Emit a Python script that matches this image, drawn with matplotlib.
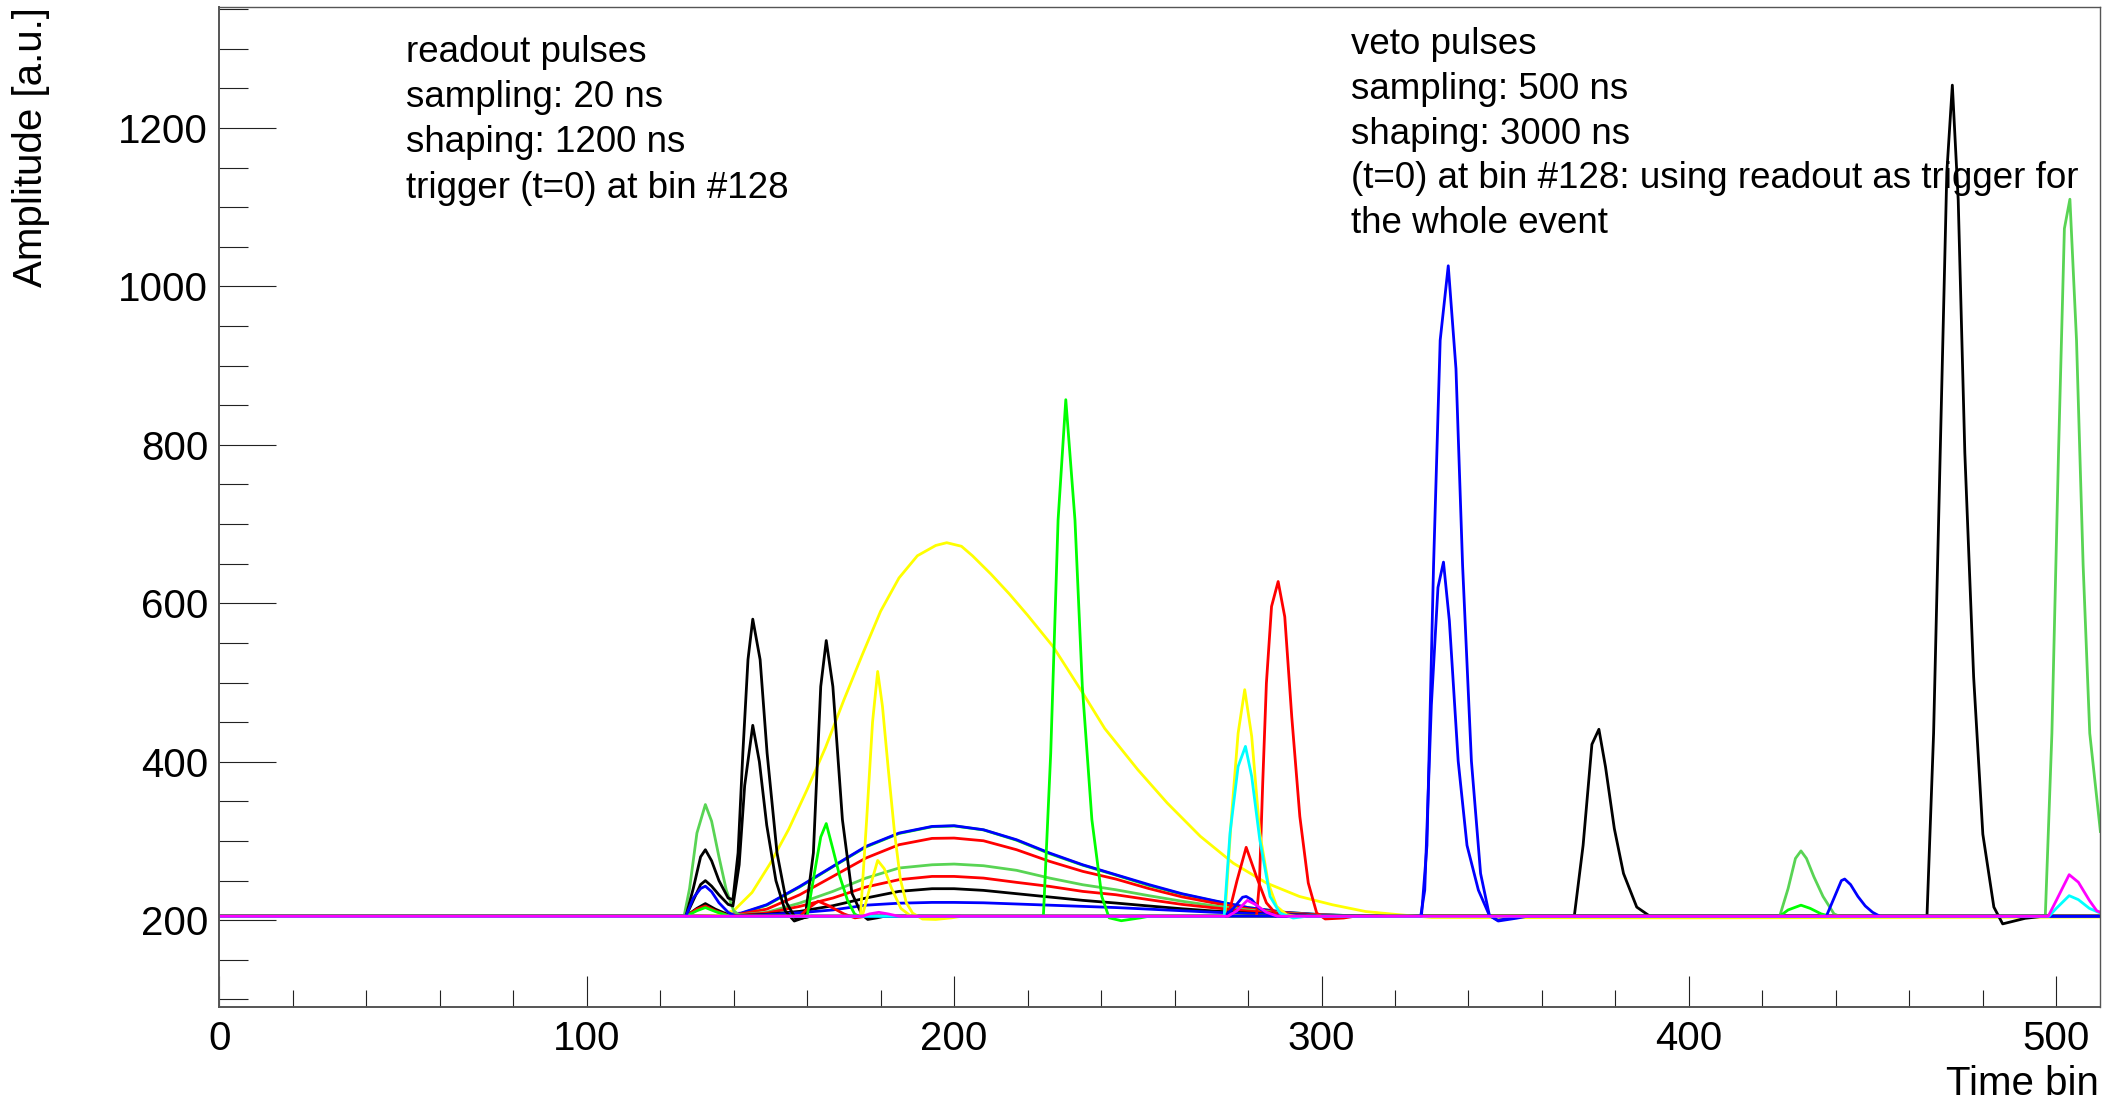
import numpy as np
import matplotlib
matplotlib.use("Agg")
import matplotlib.pyplot as plt

# ROOT-like colours
BLACK = "#000000"
RED = "#ff0000"
GREEN = "#00ff00"
BLUE = "#0000ff"
YELLOW = "#ffff00"
MAGENTA = "#ff00ff"
CYAN = "#00ffff"
GREEN8 = "#59d454"

# ---- readout pulses (broad, 1200 ns shaping) ----
ro_x = [0, 128, 135, 142, 149, 158, 167, 176, 185, 194, 200, 208, 217, 226,
        235, 244, 253, 262, 271, 280, 290, 300, 310, 512]
ro_green = [205, 205, 206, 208.5, 219, 242, 267.5, 292.5, 309.5, 318, 319, 314, 301,
            284, 269.5, 257, 244, 233, 224, 216, 210, 207, 205.5, 205]
ro_blue = [205, 205, 206, 209, 219.6, 242.7, 268, 293.2, 310, 318.4, 319.3, 314.2, 301.6,
           284.8, 270, 257.5, 245, 233.5, 224.5, 216, 210, 207, 205.5, 205]
ro_red = [205, 205, 205.5, 208, 214, 232.2, 255.3, 278.5, 295.3, 303.3, 303.7, 300.3, 289,
          274.3, 261.7, 252, 240, 229.5, 221.5, 214.5, 209.5, 206.5, 205.5, 205]
ro_green8 = [205, 205, 205.5, 207, 210, 221.7, 236.4, 253.2, 265.9, 270, 270.9, 268.8, 263,
             253.2, 244.8, 238.5, 231, 224, 218, 213, 209, 206.5, 205.5, 205]
ro_red2 = [205, 205, 205, 206.5, 209, 217.5, 228, 241.9, 251.2, 255.3, 255.3, 253.2, 247.8,
           242.7, 236.4, 232.2, 226, 220, 215.5, 211.5, 208.5, 206.5, 205.5, 205]
ro_black = [205, 205, 205, 206, 207.5, 211.2, 218.3, 228, 236.4, 239.8, 239.8, 237.7, 233.5,
            229.3, 225.1, 221.7, 218, 214.5, 211.5, 209, 207, 206, 205.3, 205]
ro_blue2 = [205, 205, 205, 205.5, 207, 209.5, 213, 219, 221.5, 222.5, 222.5, 222, 220.5,
            219, 217.5, 216, 214, 212, 210, 208.5, 207, 206, 205.3, 205]

ro_yellow_x = [0, 128, 135, 140, 145, 150, 155, 160, 165, 170, 175, 180, 185, 190, 195,
               198, 202, 205, 210, 215, 220, 227, 235, 241, 250, 258, 267, 276, 285,
               294, 303, 312, 321, 330, 400, 512]
ro_yellow = [205, 205, 206, 212, 235, 272, 315, 365, 418, 478, 535, 590, 632, 660, 673,
             676.5, 672, 660, 637, 612, 585, 545, 487, 442, 390, 348, 306, 272, 247,
             230, 219.5, 211, 207, 203.5, 203, 204]

# ---- veto pulses (narrow, 3000 ns shaping) ----
v_green8_x = [0, 126.5, 128, 130, 132.3, 134, 136, 138, 140, 142,
              424.7, 427, 429, 430.5, 432, 434, 436.5, 439.5, 441,
              497, 498.8, 500.6, 502.2, 503.7, 505.5, 507.3, 509.1, 512]
v_green8 = [205, 205, 240, 310, 346, 325, 280, 238, 212, 205,
            205, 240, 278, 287.5, 278, 255, 230, 208, 205,
            205, 436, 790, 1073, 1110, 932, 648, 436, 312]

v_black1_x = [0, 127, 129, 131, 132.3, 134, 136, 138.5, 139.8, 141.2, 142.5, 143.9,
              145.2, 147.2, 149.1, 151.8, 154.4, 157, 159.7, 161, 512]
v_black1 = [205, 205, 240, 280, 289, 275, 250, 228, 226, 285, 411, 529,
            580, 529, 411, 285, 222, 201, 204, 205, 205]

v_black2_x = [0, 127, 129, 131, 132.3, 134, 136, 138.5, 139.8, 141.5, 143, 145.2,
              147, 149, 151.5, 154, 156.5, 159, 161, 512]
v_black2 = [205, 205, 225, 245, 250, 243, 232, 220, 218, 270, 370, 446,
            400, 320, 250, 212, 199, 203, 205, 205]

v_black3_x = [0, 127, 130, 132.3, 135, 139, 159.5, 161.7, 163.7, 165.2, 167, 169.6,
              172.2, 174.9, 176.5, 179, 181,
              368.8, 371.2, 373.6, 375.5, 377.3, 379.7, 382.2, 385.8, 389.4,
              464.8, 466.6, 468.4, 470.2, 471.7, 473.3, 475.1, 477.5, 480, 483,
              485.4, 491.5, 496.4, 512]
v_black3 = [205, 205, 215, 221, 214, 206, 205, 285, 495, 553, 495, 327,
            234, 207, 201, 203, 205,
            205, 294.5, 422, 441, 393.6, 315.7, 259, 216.6, 205,
            205, 436, 790, 1144, 1254, 1109, 790, 507, 308.6, 216.6,
            195.4, 202.4, 205, 205]

v_red1_x = [0, 127, 130, 132.3, 135, 139, 158, 160, 163, 166, 170, 173, 176,
            274.6, 277, 279.5, 282.3, 285, 287.8, 290, 512]
v_red1 = [205, 205, 214, 218, 212, 205, 205, 214, 224, 218, 208, 203, 205,
          205, 250, 292, 255, 222, 207, 205, 205]

v_red2_x = [0, 282.3, 283.1, 284, 285, 286.4, 288.2, 290, 291.9, 294.1, 296.4,
            298.7, 301, 306, 309, 512]
v_red2 = [205, 205, 247, 373, 499, 596, 627.5, 583, 457, 331, 247,
          209, 201.6, 202.8, 205, 205]

v_green_x = [0, 127, 130, 132.3, 135, 139, 160, 162, 163.7, 165.2, 167, 168.9, 171,
             172.9, 174, 224.3, 226.3, 228.3, 230.4, 232.9, 234.9, 237.5, 240.2,
             242.2, 245.5, 250.7, 253, 424.7, 427, 430.5, 433, 436, 438.5, 512]
v_green = [205, 205, 212, 216, 211, 205, 205, 260, 305, 322, 290, 255, 225,
           208, 205, 205, 411, 705, 857, 705, 495, 327, 230,
           203, 199.4, 203, 205, 205, 213, 219, 215, 208, 205, 205]

v_yellow1_x = [0, 174.5, 176.2, 177.8, 179.2, 180.5, 182.1, 183.8, 185.4, 187, 188.7,
               191.4, 195, 199.3, 202, 273.7, 275.5, 277.3, 279.1, 281, 283.2,
               285.5, 287.8, 290.5, 293, 512]
v_yellow1 = [205, 205, 327, 450, 514, 470, 390, 310, 251, 222, 209,
             201.5, 201, 203, 205, 205, 331, 436, 491, 432, 310,
             247, 217.5, 207, 205, 205]

v_yellow2_x = [0, 175, 177, 179.2, 181, 183, 185.5, 188, 190, 512]
v_yellow2 = [205, 205, 240, 275.5, 265, 240, 215, 206, 205, 205]

v_blue1_x = [0, 127, 129, 131, 132.3, 134, 136, 138.5, 140.5,
             273.5, 276, 278.5, 279.5, 281, 283, 286, 288,
             327.2, 328.7, 330.5, 332.3, 334.5, 336.6, 338.4, 340.8, 343.3, 345.7,
             348.1, 353, 356,
             437.4, 439.5, 441.5, 442.4, 444, 446, 448, 450, 452, 512]
v_blue1 = [205, 205, 228, 240, 243, 236, 222, 210, 205,
           205, 215, 229, 230, 226, 215, 207, 205,
           205, 294.5, 648, 932, 1026, 896, 648, 401, 259, 206,
           199, 202.5, 205,
           205, 228, 250, 252, 245, 230, 218, 210, 205, 205]

v_blue2_x = [0, 327, 328.1, 329.9, 331.7, 333.2, 334.8, 337.2, 339.6, 342.7, 345.7,
             348, 352, 355, 512]
v_blue2 = [205, 205, 238, 471.5, 620, 652, 578, 401, 294.5, 238, 206,
           200, 203, 205, 205]

v_cyan_x = [0, 273.5, 275.1, 277.3, 279.3, 281, 283.2, 286, 288.7, 292.3, 296,
            498, 500, 503.5, 506, 509, 512]
v_cyan = [205, 205, 310, 394, 419.4, 381.5, 301.6, 230, 209, 202.8, 205,
          205, 215, 231, 226, 215, 209]

v_magenta_x = [0, 175, 177, 179.5, 182, 185, 274.5, 277, 279.8, 282, 285, 288,
               497.8, 500, 503.5, 506, 509, 511, 512]
v_magenta = [205, 205, 208, 210, 208, 205, 205, 212, 225, 220, 210, 205,
             205, 225, 257.5, 248, 225, 212, 210]

FONT = "Liberation Sans"
plt.rcParams["font.family"] = [FONT, "DejaVu Sans"]

fig = plt.figure(figsize=(21.1, 10.99), dpi=100)
ax = fig.add_axes([0.10393, 0.08408, 0.89152, 0.90982])

lw = 2.0
traces = [
    (ro_x, ro_green, GREEN), (ro_x, ro_blue, BLUE), (ro_x, ro_red, RED),
    (ro_x, ro_green8, GREEN8), (ro_x, ro_red2, RED), (ro_x, ro_black, BLACK),
    (ro_x, ro_blue2, BLUE), (ro_yellow_x, ro_yellow, YELLOW),
    (v_green8_x, v_green8, GREEN8), (v_black1_x, v_black1, BLACK),
    (v_black2_x, v_black2, BLACK), (v_black3_x, v_black3, BLACK),
    (v_red1_x, v_red1, RED), (v_red2_x, v_red2, RED),
    (v_green_x, v_green, GREEN), (v_yellow1_x, v_yellow1, YELLOW),
    (v_yellow2_x, v_yellow2, YELLOW), (v_blue1_x, v_blue1, BLUE),
    (v_blue2_x, v_blue2, BLUE), (v_cyan_x, v_cyan, CYAN),
    (v_magenta_x, v_magenta, MAGENTA),
]
for xs, ys, c in traces:
    ax.plot(xs, ys, color=c, lw=lw, solid_joinstyle="round")

ax.set_xlim(0, 512)
ax.set_ylim(91, 1353)

ax.set_xticks(np.arange(0, 501, 100))
ax.set_xticks(np.arange(0, 512, 20), minor=True)
ax.set_yticks(np.arange(200, 1201, 200))
ax.set_yticks(np.arange(100, 1351, 50), minor=True)

ax.tick_params(axis="both", which="both", direction="in", colors="#222222",
               width=0.8, labelsize=29, labelcolor="black")
ax.tick_params(axis="y", which="major", length=41, pad=8)
ax.tick_params(axis="y", which="minor", length=21)
ax.tick_params(axis="x", which="major", length=22, pad=10)
ax.tick_params(axis="x", which="minor", length=12)
ax.tick_params(top=False, right=False, which="both")

for s in ["left", "bottom"]:
    ax.spines[s].set_linewidth(1.4)
    ax.spines[s].set_color("#555555")
for s in ["top", "right"]:
    ax.spines[s].set_linewidth(1.0)
    ax.spines[s].set_color("#555555")

fig.text(31 / 2110, 1 - 7 / 1099, "Amplitude [a.u.]", rotation=90,
         ha="center", va="top", fontsize=29)
fig.text(2099 / 2110, 1 - 1084 / 1099, "Time bin", ha="right", va="center",
         fontsize=29)

ro_lines = ["readout pulses", "sampling: 20 ns", "shaping: 1200 ns",
            "trigger (t=0) at bin #128"]
for i, t in enumerate(ro_lines):
    fig.text(406 / 2110, 1 - (52 + 45.4 * i) / 1099, t, ha="left",
             va="center", fontsize=26.5)

veto_lines = ["veto pulses", "sampling: 500 ns", "shaping: 3000 ns",
              "(t=0) at bin #128: using readout as trigger for",
              "the whole event"]
for i, t in enumerate(veto_lines):
    fig.text(1351 / 2110, 1 - (45 + 44.6 * i) / 1099, t, ha="left",
             va="center", fontsize=26.5)

fig.savefig("out.png", dpi=100)
